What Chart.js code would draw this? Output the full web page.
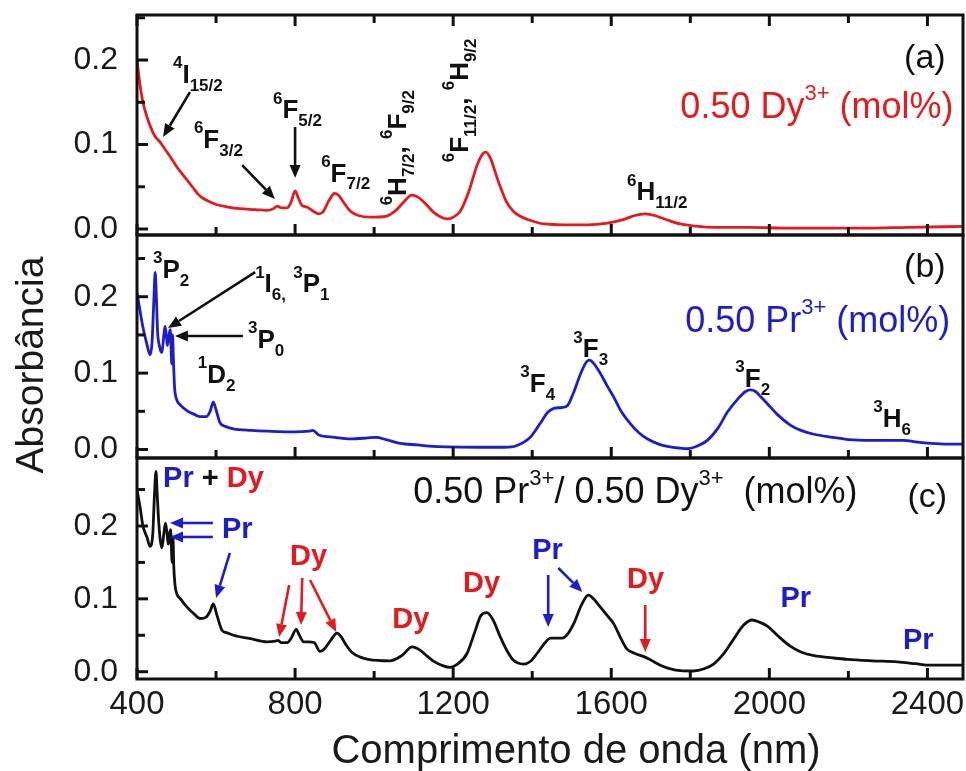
<!DOCTYPE html>
<html><head><meta charset="utf-8">
<script src="https://cdn.jsdelivr.net/npm/chart.js@4.4.1/dist/chart.umd.min.js"></script>
<style>
html,body{margin:0;padding:0;background:#fff;}
#wrap{position:relative;width:966px;height:771px;overflow:hidden;background:#fff;}
canvas{position:absolute;left:0;top:0;}
</style>
</head><body>
<div id="wrap">
<canvas id="ca" width="966" height="771"></canvas>
<canvas id="cb" width="966" height="771"></canvas>
<canvas id="cc" width="966" height="771"></canvas>
</div>
<script>
// ---------------- data ----------------
const xTickValues = [400, 800, 1200, 1600, 2000, 2400];
const yTickValues = [0.0, 0.1, 0.2];
const yMinorValues = [0.05, 0.15, 0.25];

const dyWavelength = [400,405,410,415,425,435,445,452,458,470,485,500,520,540,555,565,580,600,630,660,700,730,745,755,765,780,790,800,808,817,830,846,860,870,885,900,910,925,940,960,990,1030,1055,1075,1095,1110,1130,1150,1170,1185,1200,1218,1240,1260,1275,1283,1295,1310,1320,1335,1352,1370,1390,1430,1480,1540,1590,1630,1660,1685,1710,1740,1775,1820,1860,1950,2050,2150,2250,2350,2490];
const dyAbsorbance = [0.200,0.180,0.163,0.150,0.133,0.120,0.110,0.106,0.103,0.095,0.085,0.074,0.062,0.050,0.041,0.037,0.033,0.029,0.026,0.024,0.023,0.022,0.024,0.027,0.025,0.025,0.032,0.045,0.037,0.028,0.026,0.021,0.018,0.020,0.033,0.042,0.040,0.030,0.021,0.016,0.014,0.015,0.022,0.032,0.040,0.038,0.030,0.020,0.014,0.012,0.014,0.021,0.045,0.075,0.089,0.091,0.083,0.062,0.049,0.032,0.021,0.015,0.011,0.006,0.005,0.005,0.007,0.011,0.016,0.018,0.016,0.011,0.006,0.003,0.002,0.002,0.001,0.001,0.001,0.002,0.003];

const prWavelength = [400,405,415,425,433,438,443,446,449,452,457,463,468,471,474,477,481,484,486,488,490,492,495,500,510,526,545,560,575,585,593,600,610,625,644,690,730,800,835,845,860,900,940,980,1005,1030,1066,1110,1150,1270,1330,1360,1395,1420,1440,1455,1475,1490,1505,1520,1535,1545,1555,1572,1590,1606,1625,1648,1670,1691,1720,1742,1770,1792,1815,1843,1870,1894,1920,1940,1952,1965,1980,1995,2020,2053,2080,2113,2160,2200,2260,2300,2340,2370,2410,2450,2490];
const prAbsorbance = [0.205,0.190,0.160,0.138,0.124,0.140,0.200,0.232,0.200,0.155,0.135,0.127,0.150,0.161,0.150,0.136,0.150,0.157,0.138,0.112,0.150,0.120,0.082,0.066,0.058,0.051,0.046,0.043,0.043,0.050,0.062,0.052,0.035,0.030,0.027,0.025,0.024,0.023,0.024,0.025,0.019,0.016,0.014,0.015,0.016,0.013,0.008,0.006,0.004,0.003,0.003,0.005,0.016,0.034,0.049,0.054,0.055,0.058,0.075,0.096,0.113,0.117,0.113,0.100,0.083,0.069,0.050,0.034,0.022,0.014,0.007,0.004,0.002,0.001,0.004,0.012,0.028,0.049,0.066,0.076,0.078,0.076,0.068,0.060,0.046,0.032,0.025,0.020,0.016,0.013,0.012,0.012,0.012,0.010,0.008,0.007,0.007];

const mixWavelength = [400,408,415,425,433,440,444,448,451,455,459,463,468,472,476,479,482,485,487,489,491,493,496,500,510,526,545,560,575,585,593,602,615,630,644,690,729,750,757,765,780,790,803,810,822,835,848,863,875,890,906,915,930,945,965,985,1040,1070,1096,1115,1135,1150,1175,1192,1210,1235,1255,1270,1285,1300,1319,1335,1352,1378,1395,1412,1430,1446,1460,1475,1490,1505,1525,1542,1555,1572,1590,1606,1625,1640,1660,1681,1700,1724,1750,1775,1808,1835,1859,1885,1910,1935,1956,1975,1995,2020,2053,2080,2113,2160,2197,2260,2324,2370,2407,2490];
const mixAbsorbance = [0.250,0.225,0.200,0.185,0.172,0.190,0.240,0.275,0.245,0.205,0.180,0.170,0.190,0.204,0.190,0.175,0.188,0.195,0.170,0.150,0.185,0.145,0.120,0.108,0.100,0.089,0.079,0.073,0.075,0.083,0.093,0.078,0.057,0.053,0.050,0.045,0.041,0.042,0.043,0.040,0.040,0.046,0.058,0.051,0.041,0.041,0.040,0.028,0.032,0.043,0.053,0.049,0.036,0.026,0.020,0.017,0.015,0.022,0.034,0.030,0.021,0.0145,0.008,0.006,0.010,0.025,0.055,0.077,0.081,0.072,0.048,0.030,0.016,0.0105,0.014,0.025,0.038,0.046,0.046,0.046,0.052,0.066,0.092,0.105,0.100,0.089,0.077,0.066,0.045,0.031,0.025,0.021,0.016,0.009,0.004,0.0015,0.001,0.004,0.0105,0.025,0.045,0.064,0.071,0.068,0.0625,0.050,0.035,0.027,0.022,0.019,0.017,0.015,0.0135,0.011,0.009,0.009];

// ---------------- styling ----------------
const RED = '#e31b1f', BLUE = '#1d1dc9', BLACK = '#111111';
const FAM = "'Liberation Sans', Arial, sans-serif";

// annotations (data coordinates: wavelength, absorbance)
const dyLabels = [
  {x:491, y:0.173, parts:[['4','sup'],['I'],['15/2','sub']]},
  {x:544, y:0.096, parts:[['6','sup'],['F'],['3/2','sub']]},
  {x:744, y:0.131, parts:[['6','sup'],['F'],['5/2','sub']]},
  {x:866, y:0.056, parts:[['6','sup'],['F'],['7/2','sub']]},
  {x:1081, y:0.028, rotate:true, parts:[['6','sup'],['H'],['7/2','sub'],[','],[' '],['6','sup'],['F'],['9/2','sub']]},
  {x:1238, y:0.079, rotate:true, parts:[['6','sup'],['F'],['11/2','sub'],[','],[' '],['6','sup'],['H'],['9/2','sub']]},
  {x:1640, y:0.034, parts:[['6','sup'],['H'],['11/2','sub']]},
  {x:2446, y:0.1905, align:'right', bold:false, size:34, parts:[['(a)']]},
  {x:2466, y:0.131, align:'right', bold:false, size:36, color:RED, parts:[['0.50 Dy'],['3+','sup'],[' (mol%)']]}
];
const dyArrows = [[534,0.162,466,0.109],[666,0.0757,749,0.0355],[800,0.1207,800,0.0604]];

const prLabels = [
  {x:2446, y:0.2258, align:'right', bold:false, size:34, parts:[['(b)']]},
  {x:2458, y:0.1538, align:'right', bold:false, size:36, color:BLUE, parts:[['0.50 Pr'],['3+','sup'],[' (mol%)']]},
  {x:440.5, y:0.2245, parts:[['3','sup'],['P'],['2','sub']]},
  {x:699, y:0.206, parts:[['1','sup'],['I'],['6,','sub'],[' '],['3','sup'],['P'],['1','sub']]},
  {x:681, y:0.133, parts:[['3','sup'],['P'],['0','sub']]},
  {x:554, y:0.087, parts:[['1','sup'],['D'],['2','sub']]},
  {x:1370, y:0.0753, parts:[['3','sup'],['F'],['4','sub']]},
  {x:1504, y:0.121, parts:[['3','sup'],['F'],['3','sub']]},
  {x:1914, y:0.0818, parts:[['3','sup'],['F'],['2','sub']]},
  {x:2263, y:0.0295, parts:[['3','sup'],['H'],['6','sub']]}
];
const prArrows = [[699,0.2323,478.5,0.159],[668,0.1486,496,0.1486]];

const mixLabels = [
  {x:466, y:0.2535, size:29, parts:[['Pr','n',BLUE],[' + ','n',BLACK],['Dy','n',RED]]},
  {x:1099, y:0.2316, bold:false, size:36, parts:[['0.50 Pr'],['3+','sup'],['/ 0.50 Dy'],['3+','sup'],['  (mol%)']]},
  {x:2450, y:0.2261, align:'right', bold:false, size:34, parts:[['(c)']]},
  {x:615, y:0.1835, size:29, color:BLUE, parts:[['Pr']]},
  {x:787, y:0.1465, size:29, color:RED, parts:[['Dy']]},
  {x:1046, y:0.060, size:29, color:RED, parts:[['Dy']]},
  {x:1225, y:0.1094, size:29, color:RED, parts:[['Dy']]},
  {x:1400, y:0.1547, size:29, color:BLUE, parts:[['Pr']]},
  {x:1640, y:0.1149, size:29, color:RED, parts:[['Dy']]},
  {x:2028, y:0.0888, size:29, color:BLUE, parts:[['Pr']]},
  {x:2338, y:0.0312, size:29, color:BLUE, parts:[['Pr']]}
];
const mixArrows = [
  [592,0.2041,483.5,0.2041,BLUE],[592,0.1849,483.5,0.1849,BLUE],[635,0.163,600,0.1012,BLUE],
  [785,0.119,759.5,0.0476,RED],[818,0.1286,815,0.0641,RED],[838,0.1259,904,0.0545,RED],
  [1440.5,0.1327,1440.5,0.0614,BLUE],[1466,0.1423,1527,0.1094,BLUE],[1686,0.0916,1686,0.027,RED]
];

// ---------------- drawing helpers ----------------
function drawRich(ctx, px, py, parts, o) {
  const size = o.size || 26;
  const weight = (o.bold === false) ? '' : 'bold ';
  const small = Math.round(size * (o.bold === false ? 0.6 : 0.66));
  const supRaise = (o.bold === false) ? size * 0.5 : size * 0.56;
  const items = parts.map(p => {
    const t = p[0], k = p[1] || 'n', c = p[2] || o.color || BLACK;
    const s = (k === 'sup' || k === 'sub') ? small : size;
    const font = weight + s + 'px ' + FAM;
    ctx.font = font;
    return {t, c, font, w: ctx.measureText(t).width, dy: k === 'sup' ? -supRaise : (k === 'sub' ? size * 0.3 : 0)};
  });
  const total = items.reduce((s, i) => s + i.w, 0);
  ctx.save();
  ctx.translate(px, py);
  if (o.rotate) ctx.rotate(-Math.PI / 2);
  let cx = o.align === 'right' ? -total : (o.align === 'center' ? -total / 2 : 0);
  ctx.textBaseline = 'alphabetic';
  ctx.textAlign = 'left';
  items.forEach(i => { ctx.font = i.font; ctx.fillStyle = i.c; ctx.fillText(i.t, cx, i.dy); cx += i.w; });
  ctx.restore();
}

function drawArrow(ctx, x1, y1, x2, y2, color) {
  const ang = Math.atan2(y2 - y1, x2 - x1);
  const hl = 13, hw = 5.5;
  const bx = x2 - hl * Math.cos(ang), by = y2 - hl * Math.sin(ang);
  ctx.save();
  ctx.strokeStyle = color; ctx.fillStyle = color; ctx.lineWidth = 2.6;
  ctx.beginPath(); ctx.moveTo(x1, y1); ctx.lineTo(bx, by); ctx.stroke();
  ctx.beginPath();
  ctx.moveTo(x2, y2);
  ctx.lineTo(bx + hw * Math.sin(ang), by - hw * Math.cos(ang));
  ctx.lineTo(bx - hw * Math.sin(ang), by + hw * Math.cos(ang));
  ctx.closePath(); ctx.fill();
  ctx.restore();
}

const deco = {
  id: 'deco',
  afterDatasetsDraw(chart, args, opts) {
    const ctx = chart.ctx, a = chart.chartArea, sx = chart.scales.x, sy = chart.scales.y;
    ctx.save();
    ctx.strokeStyle = BLACK; ctx.lineWidth = 3;
    const seg = (x1, y1, x2, y2) => { ctx.beginPath(); ctx.moveTo(x1, y1); ctx.lineTo(x2, y2); ctx.stroke(); };
    const xMinor = [];
    for (let i = 0; i < xTickValues.length; i++) {
      const v = xTickValues[i] + (xTickValues[1] - xTickValues[0]) / 2;
      if (v < sx.max) xMinor.push(v);
    }
    xTickValues.forEach(v => { const p = sx.getPixelForValue(v); seg(p, a.bottom, p, a.bottom - 11); if (opts.topTicks) seg(p, a.top, p, a.top + 11); });
    xMinor.forEach(v => { const p = sx.getPixelForValue(v); seg(p, a.bottom, p, a.bottom - 8); if (opts.topTicks) seg(p, a.top, p, a.top + 8); });
    yTickValues.forEach(v => { const p = sy.getPixelForValue(v); seg(a.left, p, a.left + 11, p); });
    yMinorValues.forEach(v => { if (v < sy.max) { const p = sy.getPixelForValue(v); seg(a.left, p, a.left + 8, p); } });
    ctx.lineWidth = 3;
    ctx.strokeRect(a.left, a.top, a.right - a.left, a.bottom - a.top);
    (opts.arrows || []).forEach(r => drawArrow(ctx, sx.getPixelForValue(r[0]), sy.getPixelForValue(r[1]), sx.getPixelForValue(r[2]), sy.getPixelForValue(r[3]), r[4] || BLACK));
    (opts.labels || []).forEach(l => drawRich(ctx, sx.getPixelForValue(l.x), sy.getPixelForValue(l.y), l.parts, l));
    if (opts.titles) {
      ctx.fillStyle = '#1a1a1a';
      ctx.font = '40px ' + FAM; ctx.textAlign = 'center'; ctx.textBaseline = 'alphabetic';
      ctx.fillText('Comprimento de onda (nm)', 576, 763);
      ctx.save(); ctx.translate(43, 365); ctx.rotate(-Math.PI / 2);
      ctx.font = '39px ' + FAM; ctx.fillText('Absorbância', 0, 0); ctx.restore();
    }
    ctx.restore();
  }
};

function pts(xs, ys) { return xs.map((v, i) => ({x: v, y: ys[i]})); }

function makePanel(id, cfg) {
  return new Chart(document.getElementById(id), {
    type: 'line',
    data: {datasets: [{data: pts(cfg.xs, cfg.ys), borderColor: cfg.color, borderWidth: 2.8, pointRadius: 0, cubicInterpolationMode: 'monotone', fill: false}]},
    options: {
      responsive: false, animation: false, devicePixelRatio: 1,
      layout: {padding: {left: 0, right: 3, top: cfg.top, bottom: cfg.bottom}},
      plugins: {legend: {display: false}, tooltip: {enabled: false}, deco: cfg.deco},
      scales: {
        x: {type: 'linear', min: 400, max: 2490, display: cfg.showX,
            afterBuildTicks: s => { s.ticks = xTickValues.map(v => ({value: v})); },
            afterFit: s => { if (cfg.showX) s.height = 92; s.paddingLeft = 0; s.paddingRight = 0; },
            grid: {display: false, drawTicks: false}, border: {display: false},
            ticks: {autoSkip: false, maxRotation: 0, padding: 6, color: '#1a1a1a', font: {family: FAM, size: 33}, callback: v => String(v)}},
        y: {type: 'linear', min: cfg.ymin, max: cfg.ymax,
            afterBuildTicks: s => { s.ticks = yTickValues.map(v => ({value: v})); },
            afterFit: s => { s.width = 137; s.paddingTop = 0; s.paddingBottom = 0; },
            grid: {display: false, drawTicks: false}, border: {display: false},
            ticks: {autoSkip: false, padding: 19, color: '#1a1a1a', font: {family: FAM, size: 32}, callback: v => v.toFixed(1)}}
      }
    },
    plugins: [deco]
  });
}

makePanel('ca', {xs: dyWavelength, ys: dyAbsorbance, color: RED, top: 15, bottom: 536, showX: false, ymin: -0.0071, ymax: 0.2533,
  deco: {topTicks: true, labels: dyLabels, arrows: dyArrows}});
makePanel('cb', {xs: prWavelength, ys: prAbsorbance, color: BLUE, top: 235, bottom: 313, showX: false, ymin: -0.0111, ymax: 0.2808,
  deco: {labels: prLabels, arrows: prArrows}});
makePanel('cc', {xs: mixWavelength, ys: mixAbsorbance, color: BLACK, top: 458, bottom: 0, showX: true, ymin: -0.0100, ymax: 0.2933,
  deco: {labels: mixLabels, arrows: mixArrows, titles: true}});
</script>
</body></html>
